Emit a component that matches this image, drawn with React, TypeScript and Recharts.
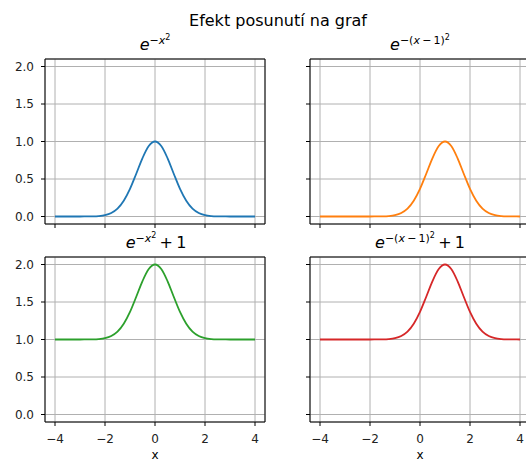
import { CartesianGrid, Line, LineChart, ReferenceArea, XAxis, YAxis } from "recharts"

const xValues = [
  -4, -3.75, -3.5, -3.25, -3, -2.75, -2.5, -2.25, -2, -1.75, -1.5, -1.25, -1, -0.75, -0.5, -0.25,
  0, 0.25, 0.5, 0.75, 1, 1.25, 1.5, 1.75, 2, 2.25, 2.5, 2.75, 3, 3.25, 3.5, 3.75, 4,
]

// e^{-x^2}
const gauss = [
  0, 0, 0, 0, 0, 0.001, 0.002, 0.006, 0.018, 0.047, 0.105, 0.21, 0.368, 0.57, 0.779, 0.939,
  1, 0.939, 0.779, 0.57, 0.368, 0.21, 0.105, 0.047, 0.018, 0.006, 0.002, 0.001, 0, 0, 0, 0, 0,
]

// e^{-(x-1)^2}
const gaussShifted = [
  0, 0, 0, 0, 0, 0, 0, 0, 0, 0.001, 0.002, 0.006, 0.018, 0.047, 0.105, 0.21,
  0.368, 0.57, 0.779, 0.939, 1, 0.939, 0.779, 0.57, 0.368, 0.21, 0.105, 0.047, 0.018, 0.006, 0.002, 0.001, 0,
]

// e^{-x^2} + 1
const gaussLifted = [
  1, 1, 1, 1, 1, 1.001, 1.002, 1.006, 1.018, 1.047, 1.105, 1.21, 1.368, 1.57, 1.779, 1.939,
  2, 1.939, 1.779, 1.57, 1.368, 1.21, 1.105, 1.047, 1.018, 1.006, 1.002, 1.001, 1, 1, 1, 1, 1,
]

// e^{-(x-1)^2} + 1
const gaussShiftedLifted = [
  1, 1, 1, 1, 1, 1, 1, 1, 1, 1.001, 1.002, 1.006, 1.018, 1.047, 1.105, 1.21,
  1.368, 1.57, 1.779, 1.939, 2, 1.939, 1.779, 1.57, 1.368, 1.21, 1.105, 1.047, 1.018, 1.006, 1.002, 1.001, 1,
]

const xTicks = [-4, -2, 0, 2, 4]
const yTicks = [0, 0.5, 1, 1.5, 2]
const xDomain = [-4.4, 4.4]
const yDomain = [-0.1, 2.1]

const FONT = "'DejaVu Sans', sans-serif"
const minus = (s: string) => s.replace("-", "\u2212")

const panels = [
  { key: "a", values: gauss, color: "#1f77b4", left: 0, top: 54, xLabels: false, yLabels: true },
  { key: "b", values: gaussShifted, color: "#ff7f0e", left: 265, top: 54, xLabels: false, yLabels: false },
  { key: "c", values: gaussLifted, color: "#2ca02c", left: 0, top: 252, xLabels: true, yLabels: true },
  { key: "d", values: gaussShiftedLifted, color: "#d62728", left: 265, top: 252, xLabels: true, yLabels: false },
]

function Panel({ values, color, xLabels, yLabels }: { values: number[]; color: string; xLabels: boolean; yLabels: boolean }) {
  const data = xValues.map((x, i) => ({ x, y: values[i] }))
  const tickStyle = { fill: "#222", fontSize: 12, fontFamily: FONT }
  return (
    <LineChart width={270} height={210} data={data} margin={{ top: 5, right: 5, bottom: 0, left: 0 }}>
      <CartesianGrid stroke="#b0b0b0" strokeWidth={1} />
      <XAxis
        dataKey="x"
        type="number"
        domain={xDomain}
        ticks={xTicks}
        height={40}
        axisLine={false}
        tickSize={4}
        tickMargin={8}
        tickLine={{ stroke: "#000" }}
        tick={tickStyle}
        tickFormatter={(v: number) => (xLabels ? minus(String(v)) : "")}
        interval={0}
      />
      <YAxis
        type="number"
        domain={yDomain}
        ticks={yTicks}
        width={45}
        axisLine={false}
        tickSize={4}
        tickMargin={7}
        tickLine={{ stroke: "#000" }}
        tick={tickStyle}
        tickFormatter={(v: number) => (yLabels ? v.toFixed(1) : "")}
        interval={0}
      />
      <Line type="monotone" dataKey="y" stroke={color} strokeWidth={1.8} dot={false} isAnimationActive={false} />
      <ReferenceArea x1={-4.4} x2={4.4} y1={-0.1} y2={2.1} fill="none" stroke="#000" strokeWidth={1} />
    </LineChart>
  )
}

export default function App() {
  const sup = { fontSize: 11 }
  const sup2 = { fontSize: 8 }
  return (
    <div style={{ position: "absolute", left: 0, top: 0, width: 526, height: 461, overflow: "hidden", background: "#fff" }}>
      {panels.map((p) => (
        <div key={p.key} style={{ position: "absolute", left: p.left, top: p.top }}>
          <Panel values={p.values} color={p.color} xLabels={p.xLabels} yLabels={p.yLabels} />
        </div>
      ))}
      <svg width={526} height={461} style={{ position: "absolute", left: 0, top: 0, pointerEvents: "none" }} fontFamily={FONT}>
        <text x={278} y={26} textAnchor="middle" fontSize={16} fill="#000">
          Efekt posunutí na graf
        </text>
        <text x={155} y={50} textAnchor="middle" fontSize={16} fill="#000">
          <tspan fontStyle="italic">e</tspan>
          <tspan dy={-6} style={sup}>−</tspan>
          <tspan style={sup} fontStyle="italic">x</tspan>
          <tspan dy={-4} style={sup2}>2</tspan>
        </text>
        <text x={420} y={50} textAnchor="middle" fontSize={16} fill="#000">
          <tspan fontStyle="italic">e</tspan>
          <tspan dy={-6} style={sup}>−(</tspan>
          <tspan style={sup} fontStyle="italic">x</tspan>
          <tspan style={sup}>{"\u2009−\u20091)"}</tspan>
          <tspan dy={-4} style={sup2}>2</tspan>
        </text>
        <text x={156} y={248} textAnchor="middle" fontSize={16} fill="#000">
          <tspan fontStyle="italic">e</tspan>
          <tspan dy={-6} style={sup}>−</tspan>
          <tspan style={sup} fontStyle="italic">x</tspan>
          <tspan dy={-4} style={sup2}>2</tspan>
          <tspan dy={10}>{"\u2009+\u20091"}</tspan>
        </text>
        <text x={420} y={248} textAnchor="middle" fontSize={16} fill="#000">
          <tspan fontStyle="italic">e</tspan>
          <tspan dy={-6} style={sup}>−(</tspan>
          <tspan style={sup} fontStyle="italic">x</tspan>
          <tspan style={sup}>{"\u2009−\u20091)"}</tspan>
          <tspan dy={-4} style={sup2}>2</tspan>
          <tspan dy={10}>{"\u2009+\u20091"}</tspan>
        </text>
        <text x={155} y={459} textAnchor="middle" fontSize={12} fill="#000">x</text>
        <text x={420} y={459} textAnchor="middle" fontSize={12} fill="#000">x</text>
      </svg>
    </div>
  )
}
